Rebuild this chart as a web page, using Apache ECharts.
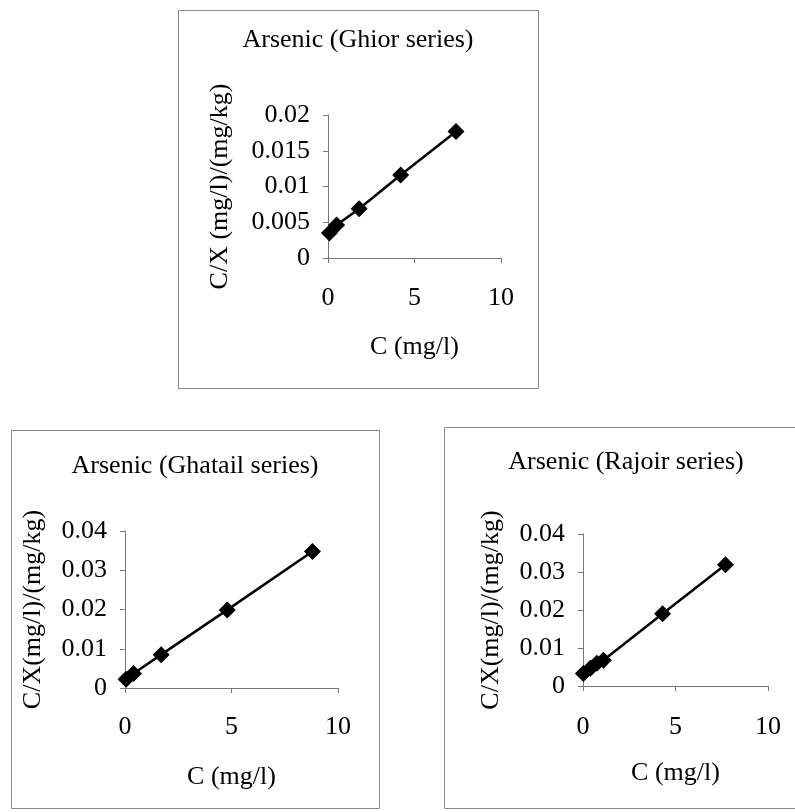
<!DOCTYPE html>
<html>
<head>
<meta charset="utf-8">
<script src="https://cdn.jsdelivr.net/npm/echarts@6/dist/echarts.min.js"></script>
<style>
html,body{margin:0;padding:0;background:#fff;}
#chart{width:795px;height:812px;}
</style>
</head>
<body>
<div id="chart"></div>
<script>
// arsenic adsorption - C/X vs C for three soil series

var GHIOR_C = [0.08, 0.5, 1.8, 4.2, 7.4];
var GHIOR_CX = [0.0035, 0.0046, 0.0069, 0.0116, 0.0177];

var GHATAIL_C = [0.05, 0.4, 1.7, 4.8, 8.8];
var GHATAIL_CX = [0.0022, 0.0037, 0.0085, 0.0199, 0.0348];

var RAJOIR_C = [0.02, 0.4, 0.75, 1.1, 4.3, 7.7];
var RAJOIR_CX = [0.0033, 0.0047, 0.0060, 0.0068, 0.0190, 0.0319];

var TITLES = ['Arsenic (Ghior series)', 'Arsenic (Ghatail series)', 'Arsenic (Rajoir series)'];
var X_NAME = 'C (mg/l)';
var Y_NAMES = ['C/X (mg/l)/(mg/kg)', 'C/X(mg/l)/(mg/kg)', 'C/X(mg/l)/(mg/kg)'];

var FONT = '"Liberation Serif", "Times New Roman", serif';
var FS = 26;

function pairs(xs, ys){
	var out = [];
	for (var i = 0; i < xs.length; i++){
		out.push([xs[i], ys[i]]);
	}
	return out;
}

function xAxisFor(idx, gap, margin){
	return {
		type:'value', gridIndex:idx, min:0, max:10, interval:5,
		name:X_NAME, nameLocation:'middle', nameGap:gap,
		nameTextStyle:{color:'#000', fontFamily:FONT, fontSize:FS},
		axisLine:{show:true, lineStyle:{color:'#777', width:1}},
		axisTick:{show:true, length:5, lineStyle:{color:'#777'}},
		axisLabel:{color:'#000', fontFamily:FONT, fontSize:FS, margin:margin},
		splitLine:{show:false}
	};
}

function yAxisFor(idx, max, interval, gap, name){
	return {
		type:'value', gridIndex:idx, min:0, max:max, interval:interval,
		name:name, nameLocation:'middle', nameGap:gap,
		nameTextStyle:{color:'#000', fontFamily:FONT, fontSize:FS},
		axisLine:{show:true, lineStyle:{color:'#777', width:1}},
		axisTick:{show:true, length:5, lineStyle:{color:'#777'}},
		axisLabel:{color:'#000', fontFamily:FONT, fontSize:FS, margin:18},
		splitLine:{show:false}
	};
}

function seriesFor(idx, xs, ys){
	return {
		type:'line', xAxisIndex:idx, yAxisIndex:idx,
		data:pairs(xs, ys),
		symbol:'diamond', symbolSize:17,
		lineStyle:{color:'#000', width:2.5},
		itemStyle:{color:'#000'},
		animation:false
	};
}

function boxAndTitle(x, y, w, h, cx, ty, text){
	return [
		{type:'rect', shape:{x:x, y:y, width:w, height:h}, style:{fill:'none', stroke:'#888', lineWidth:1}, silent:true},
		{type:'text', x:cx, y:ty, style:{text:text, fill:'#000', font:FS + 'px ' + FONT, align:'center', verticalAlign:'middle'}}
	];
}

var myChart = echarts.init(document.getElementById('chart'));
myChart.setOption({
	backgroundColor:'#fff',
	animation:false,
	grid:[
		{left:328, top:115, width:173, height:143},
		{left:125, top:531, width:213, height:157},
		{left:583, top:534, width:185, height:152}
	],
	xAxis:[xAxisFor(0, 76, 27), xAxisFor(1, 76, 26), xAxisFor(2, 74, 28)],
	yAxis:[
		yAxisFor(0, 0.02, 0.005, 95, Y_NAMES[0]),
		yAxisFor(1, 0.04, 0.01, 79, Y_NAMES[1]),
		yAxisFor(2, 0.04, 0.01, 79, Y_NAMES[2])
	],
	series:[
		seriesFor(0, GHIOR_C, GHIOR_CX),
		seriesFor(1, GHATAIL_C, GHATAIL_CX),
		seriesFor(2, RAJOIR_C, RAJOIR_CX)
	],
	graphic:[].concat(
		boxAndTitle(178.5, 10.5, 360, 378, 358, 40, TITLES[0]),
		boxAndTitle(11.5, 430.5, 368, 378, 195, 466, TITLES[1]),
		boxAndTitle(444.5, 427.5, 364, 381, 626, 462, TITLES[2])
	)
});
</script>
</body>
</html>
